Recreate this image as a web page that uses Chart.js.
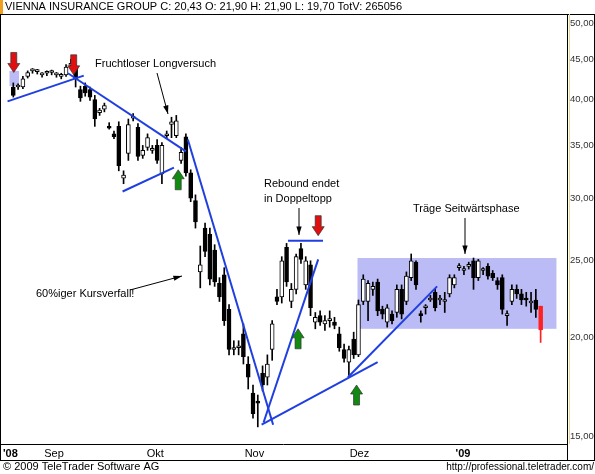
<!DOCTYPE html>
<html>
<head>
<meta charset="utf-8">
<script src="https://cdn.jsdelivr.net/npm/chart.js@4.4.1/dist/chart.umd.min.js"></script>
<style>
  body { margin: 0; background: #fff; }
  #wrap { width: 595px; height: 474px; }
</style>
</head>
<body>
<div id="wrap"><canvas id="myChart" width="595" height="474"></canvas></div>
<script>
// daily candles, trading day index = position in arrays
const opens  = [41.5,41.5,41.5,42.8,43.5,43.4,43.0,43.2,43.3,43.0,42.8,43.0,44.2,44.0, 41.2,41.6,41.2,40.0,38.5,38.9,37.0,36.2,37.0,31.8,34.2,37.9,36.9,34.0,34.8,34.5,35.0,32.2,36.0,37.2,36.0,33.5,35.9,32.3,29.8,24.2,27.5,27.0,25.8,23.4,24.0,21.7,19.3,19.4,20.2,18.5,17.0,16.6,18.0,17.8,19.3,22.5,22.5,26.0,22.2,23.0,25.9,23.3,24.7,20.9,21.3,20.8,21.0,20.9,20.2,19.3,18.6,19.9,19.0,22.2, 22.2,23.0,23.5,21.7,20.9,21.4,21.5,23.0,22.2,23.8,24.9,21.4,21.8,22.3,22.8,22.3,22.2,22.7,23.3,24.5,24.3,24.6,25.0,23.8,24.3,24.6,24.1,23.6,23.8,21.3,22.2,23.0,22.7,22.4,22.1,22.3,21.9];
const highs  = [42.0,41.9,42.8,43.5,43.8,43.7,43.3,43.5,43.6,43.3,43.2,44.3,45.0,44.3, 41.6,42.0,41.5,40.5,39.0,39.6,37.4,36.5,37.5,32.5,37.8,38.4,37.3,35.0,36.2,35.0,35.6,35.3,36.5,38.0,38.2,34.8,36.2,32.6,30.3,26.1,27.9,27.5,26.2,23.8,24.5,22.0,19.8,19.8,20.8,18.9,17.4,16.9,18.4,19.0,21.0,23.0,25.3,26.3,23.4,25.5,26.3,25.3,25.0,21.5,21.6,21.3,21.6,21.2,20.6,19.6,19.5,20.3,22.3,24.0, 23.6,23.5,23.7,21.9,22.0,21.6,23.3,23.3,24.2,25.5,25.0,21.6,22.0,22.6,23.0,22.6,22.8,24.0,24.0,24.8,24.6,24.9,25.2,25.1,24.5,24.8,24.3,23.8,24.0,21.6,23.3,23.3,23.0,22.8,22.8,23.0,21.9];
const lows   = [40.3,41.2,41.3,42.6,43.2,43.1,42.7,42.9,43.0,42.7,42.5,42.8,43.8,41.5, 39.8,40.4,39.9,37.0,38.2,38.6,36.7,35.7,32.5,31.3,33.5,37.6,33.5,33.7,34.5,34.2,33.2,31.3,35.7,35.8,35.8,33.2,32.0,29.7,27.5,23.1,25.3,23.3,23.2,22.2,20.7,19.0,19.0,19.0,18.5,17.2,15.8,15.4,17.1,17.4,18.7,22.0,22.1,23.2,21.8,22.7,24.8,23.0,21.3,20.5,20.7,20.4,20.6,20.5,19.2,18.6,17.9,18.8,18.9,22.0, 21.0,22.6,21.3,21.1,20.6,20.8,21.2,21.1,22.0,23.6,23.0,20.9,21.4,22.2,21.6,22.0,21.5,22.5,23.1,24.3,24.0,24.4,23.0,23.6,24.0,23.7,23.6,23.0,21.4,20.7,22.0,22.4,22.0,21.9,21.5,21.2,19.7];
const closes = [40.5,41.6,42.5,43.3,43.5,43.5,43.1,43.2,43.4,43.0,42.9,44.0,44.3,42.5, 40.2,40.8,40.3,37.8,38.8,39.3,36.8,35.9,33.0,32.1,37.2,38.0,33.9,34.5,35.8,34.5,33.5,35.0,36.0,37.5,37.6,34.3,32.3,30.0,28.0,24.7,25.7,23.7,23.5,22.5,21.0,19.3,19.3,19.4,18.9,17.8,16.0,16.5,17.4,18.5,20.8,22.2,25.0,23.5,23.0,25.3,25.1,25.0,21.8,21.2,20.9,21.0,21.1,20.7,19.4,18.8,19.3,19.0,22.0,23.7, 23.4,23.2,21.6,21.4,21.8,21.0,23.0,21.4,23.9,25.0,23.3,21.3,21.8,22.4,21.8,22.3,22.2,23.8,23.8,24.5,24.3,24.6,23.8,25.0,24.3,23.9,23.8,23.3,21.7,21.3,23.0,22.7,22.3,22.3,22.1,21.7,20.43];

// x tick labels
const monthTicks  = [-0.6, 8.5, 29.6, 50.3, 72.2, 93.8];
const monthLabels = ["'08", "Sep", "Okt", "Nov", "Dez", "'09"];
const priceTicks  = [15, 20, 25, 30, 35, 40, 45, 50];

// trend lines [x1, p1, x2, p2]
const trendLines = [
  [-1.2, 39.8, 14.7, 42.9],
  [11.4, 43.2, 36.0, 34.4],
  [22.8, 30.6, 33.5, 32.8],
  [36.4, 35.6, 54.2, 15.5],
  [52.2, 15.6, 63.6, 25.1],
  [51.8, 15.5, 76.0, 18.6],
  [69.8, 17.8, 88.4, 23.2],
  [57.3, 26.5, 64.6, 26.5]
];
// shaded zones [x1, x2, pLow, pHigh]
const zones = [[71.8, 113.3, 20.5, 25.2], [-0.8, 1.2, 41.6, 43.5]];
// arrows [x, tipPrice]
const redArrows   = [[0.1, 43.3], [12.6, 43.0], [63.6, 26.9]];
const greenArrows = [[34.4, 32.6], [59.4, 20.5], [71.6, 17.4]];

const idx = opens.map((_, i) => i);
const wicks  = idx.map(i => ({x: i, y: [lows[i], highs[i]]}));
const bodies = idx.map(i => ({x: i, y: [Math.min(opens[i], closes[i]), Math.max(opens[i], closes[i])]}));
const last = idx.length - 1;
const bodyFill = idx.map(i => i === last ? '#ff2020' : (closes[i] >= opens[i] ? '#ffffff' : '#000000'));
const inkColor = idx.map(i => i === last ? '#ff2020' : '#000000');

const fmt = v => v.toFixed(2).replace('.', ',');

function arrowShape(ctx, x, y, dir, fill) {
  // dir 1 = points down (tip at y), -1 = points up
  const h = 20, hw = 6, sw = 3, hh = 9;
  ctx.beginPath();
  ctx.moveTo(x, y);
  ctx.lineTo(x - hw, y - dir * hh);
  ctx.lineTo(x - sw, y - dir * hh);
  ctx.lineTo(x - sw, y - dir * h);
  ctx.lineTo(x + sw, y - dir * h);
  ctx.lineTo(x + sw, y - dir * hh);
  ctx.lineTo(x + hw, y - dir * hh);
  ctx.closePath();
  ctx.fillStyle = fill;
  ctx.fill();
  ctx.strokeStyle = '#333';
  ctx.lineWidth = 0.7;
  ctx.stroke();
}

function pointer(ctx, x1, y1, x2, y2) {
  ctx.strokeStyle = '#000';
  ctx.fillStyle = '#000';
  ctx.lineWidth = 1;
  ctx.beginPath(); ctx.moveTo(x1, y1); ctx.lineTo(x2, y2); ctx.stroke();
  const a = Math.atan2(y2 - y1, x2 - x1);
  ctx.beginPath();
  ctx.moveTo(x2, y2);
  ctx.lineTo(x2 - 9 * Math.cos(a - 0.3), y2 - 9 * Math.sin(a - 0.3));
  ctx.lineTo(x2 - 9 * Math.cos(a + 0.3), y2 - 9 * Math.sin(a + 0.3));
  ctx.closePath(); ctx.fill();
}

const zonePlugin = {
  id: 'zones',
  beforeDatasetsDraw(chart) {
    const {ctx, scales: {x, y}, chartArea} = chart;
    ctx.save();
    ctx.beginPath();
    ctx.rect(chartArea.left, chartArea.top, chartArea.width, chartArea.height);
    ctx.clip();
    ctx.fillStyle = 'rgba(175,175,245,0.85)';
    zones.forEach(z => {
      const x1 = x.getPixelForValue(z[0]), x2 = x.getPixelForValue(z[1]);
      const y1 = y.getPixelForValue(z[3]), y2 = y.getPixelForValue(z[2]);
      ctx.fillRect(x1, y1, x2 - x1, y2 - y1);
    });
    ctx.restore();
  },
  afterDatasetsDraw(chart) {
    const {ctx, scales: {x, y}, chartArea} = chart;
    ctx.save();
    ctx.strokeStyle = '#1f3fe0';
    ctx.lineWidth = 2;
    trendLines.forEach(t => {
      ctx.beginPath();
      ctx.moveTo(x.getPixelForValue(t[0]), y.getPixelForValue(t[1]));
      ctx.lineTo(x.getPixelForValue(t[2]), y.getPixelForValue(t[3]));
      ctx.stroke();
    });
    redArrows.forEach(a => arrowShape(ctx, x.getPixelForValue(a[0]), y.getPixelForValue(a[1]), 1, '#e01010'));
    greenArrows.forEach(a => arrowShape(ctx, x.getPixelForValue(a[0]), y.getPixelForValue(a[1]), -1, '#108a10'));

    // notes
    ctx.fillStyle = '#000';
    ctx.font = '11px "Liberation Sans", Arial, sans-serif';
    ctx.textBaseline = 'middle';
    ctx.fillText('Fruchtloser Longversuch', 95, 64);
    pointer(ctx, 157, 73, 168, 114);
    ctx.fillText('Rebound endet', 264, 184);
    ctx.fillText('in Doppeltopp', 264, 199);
    pointer(ctx, 299, 208, 299, 235);
    ctx.fillText('Träge Seitwärtsphase', 413, 209);
    pointer(ctx, 465, 218, 465, 254);
    ctx.fillText('60%iger Kursverfall!', 36, 294);
    pointer(ctx, 130, 290, 182, 276);

    // frame
    ctx.strokeStyle = '#000';
    ctx.lineWidth = 1;
    ctx.strokeRect(0.5, 14.5, 594, 446);
    ctx.beginPath();
    ctx.moveTo(chartArea.right + 0.5, 14); ctx.lineTo(chartArea.right + 0.5, 461);
    ctx.moveTo(0, chartArea.bottom + 0.5); ctx.lineTo(chartArea.right, chartArea.bottom + 0.5);
    ctx.stroke();
    ctx.strokeStyle = '#e8d890';
    ctx.beginPath();
    ctx.moveTo(chartArea.right + 2.5, 14); ctx.lineTo(chartArea.right + 2.5, chartArea.bottom);
    ctx.stroke();

    // header and footer
    ctx.fillStyle = '#f0a020';
    ctx.fillRect(0, 0, 3, 14);
    ctx.fillStyle = '#000';
    ctx.font = '11px "Liberation Sans", Arial, sans-serif';
    ctx.fillText('VIENNA INSURANCE GROUP C: 20,43 O: 21,90 H: 21,90 L: 19,70 TotV: 265056', 5, 7);
    ctx.fillText('\u00a9 2009 TeleTrader Software AG', 3, 467);
    ctx.textAlign = 'right';
    ctx.font = '10px "Liberation Sans", Arial, sans-serif';
    ctx.fillText('http://professional.teletrader.com/', 594, 467);
    ctx.restore();
  }
};

new Chart(document.getElementById('myChart'), {
  type: 'bar',
  data: {
    datasets: [
      {
        label: 'Docht',
        data: wicks,
        backgroundColor: inkColor,
        borderWidth: 0,
        barThickness: 1,
        grouped: false,
        order: 2
      },
      {
        label: 'Kerze',
        data: bodies,
        backgroundColor: bodyFill,
        borderColor: inkColor,
        borderWidth: 1,
        borderSkipped: false,
        barThickness: 4,
        minBarLength: 2,
        grouped: false,
        order: 1
      }
    ]
  },
  options: {
    responsive: false,
    animation: false,
    layout: { padding: { top: 15, bottom: 13, left: 1, right: 0 } },
    plugins: { legend: { display: false }, tooltip: { enabled: false } },
    scales: {
      x: {
        type: 'linear',
        offset: false,
        min: -1.3,
        max: 115.5,
        grid: { display: false, drawTicks: false, offset: false },
        border: { display: false },
        afterFit: s => { s.height = 17; },
        afterBuildTicks: s => { s.ticks = monthTicks.map(v => ({value: v})); },
        ticks: {
          autoSkip: false,
          maxRotation: 0,
          padding: 3,
          color: '#000',
          font: ctx => ({ family: '"Liberation Sans", Arial, sans-serif', size: 11, weight: (ctx.index === 0 || ctx.index === 5) ? 'bold' : 'normal' }),
          callback: (v, i) => monthLabels[i]
        }
      },
      y: {
        type: 'logarithmic',
        position: 'right',
        min: 14.65,
        max: 51.2,
        grid: { display: false, drawTicks: true, tickLength: 3, tickColor: '#000' },
        border: { display: false },
        afterFit: s => { s.width = 28; },
        afterBuildTicks: s => { s.ticks = priceTicks.map(v => ({value: v})); },
        ticks: {
          padding: 0,
          color: '#333',
          font: { family: '"Liberation Sans", Arial, sans-serif', size: 9.5 },
          callback: v => fmt(v)
        }
      }
    }
  },
  plugins: [zonePlugin]
});
</script>
</body>
</html>
